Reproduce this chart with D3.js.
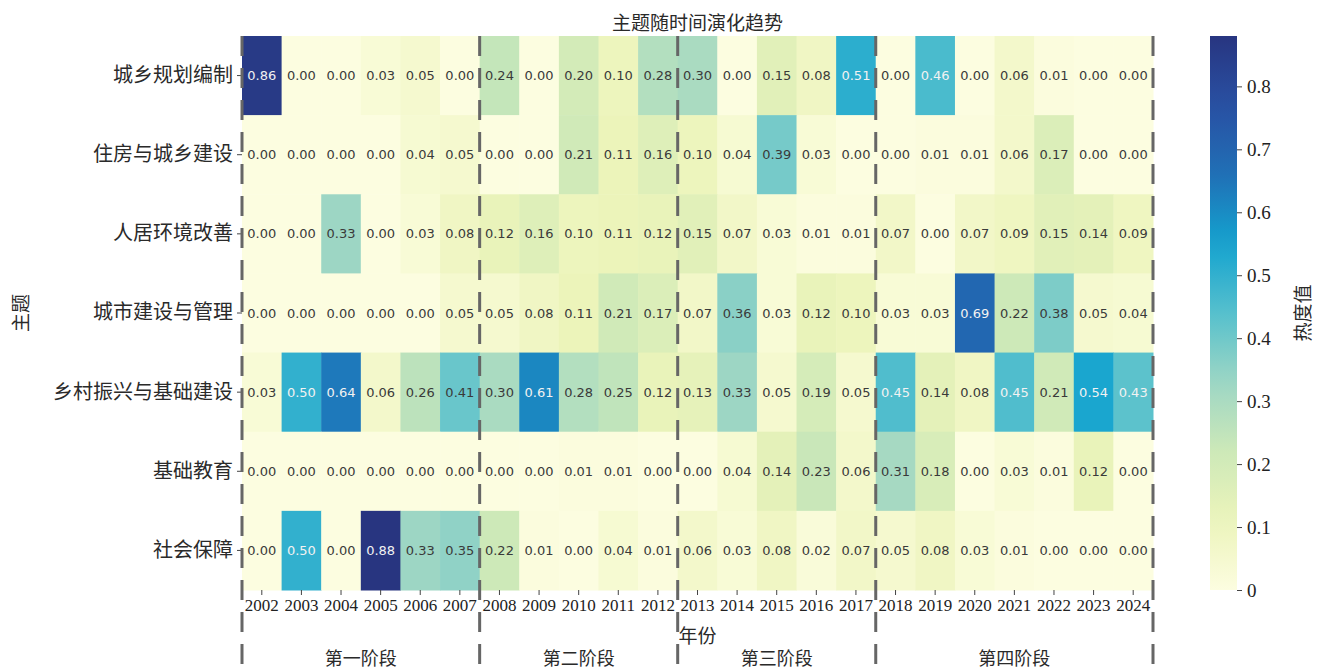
<!DOCTYPE html>
<html>
<head>
<meta charset="utf-8">
<script src="https://cdn.jsdelivr.net/npm/d3@7"></script>
<style>
  body { margin: 0; background: #fff; }
  text { font-family: "Noto Sans CJK SC", sans-serif; }
</style>
</head>
<body>
<div id="chart"></div>
<script>
// data
const years = d3.range(2002, 2025).map(String)
const topics = ["城乡规划编制", "住房与城乡建设", "人居环境改善", "城市建设与管理", "乡村振兴与基础建设", "基础教育", "社会保障"]
const heat = [
    [0.86, 0.00, 0.00, 0.03, 0.05, 0.00, 0.24, 0.00, 0.20, 0.10, 0.28, 0.30, 0.00, 0.15, 0.08, 0.51, 0.00, 0.46, 0.00, 0.06, 0.01, 0.00, 0.00],
    [0.00, 0.00, 0.00, 0.00, 0.04, 0.05, 0.00, 0.00, 0.21, 0.11, 0.16, 0.10, 0.04, 0.39, 0.03, 0.00, 0.00, 0.01, 0.01, 0.06, 0.17, 0.00, 0.00],
    [0.00, 0.00, 0.33, 0.00, 0.03, 0.08, 0.12, 0.16, 0.10, 0.11, 0.12, 0.15, 0.07, 0.03, 0.01, 0.01, 0.07, 0.00, 0.07, 0.09, 0.15, 0.14, 0.09],
    [0.00, 0.00, 0.00, 0.00, 0.00, 0.05, 0.05, 0.08, 0.11, 0.21, 0.17, 0.07, 0.36, 0.03, 0.12, 0.10, 0.03, 0.03, 0.69, 0.22, 0.38, 0.05, 0.04],
    [0.03, 0.50, 0.64, 0.06, 0.26, 0.41, 0.30, 0.61, 0.28, 0.25, 0.12, 0.13, 0.33, 0.05, 0.19, 0.05, 0.45, 0.14, 0.08, 0.45, 0.21, 0.54, 0.43],
    [0.00, 0.00, 0.00, 0.00, 0.00, 0.00, 0.00, 0.00, 0.01, 0.01, 0.00, 0.00, 0.04, 0.14, 0.23, 0.06, 0.31, 0.18, 0.00, 0.03, 0.01, 0.12, 0.00],
    [0.00, 0.50, 0.00, 0.88, 0.33, 0.35, 0.22, 0.01, 0.00, 0.04, 0.01, 0.06, 0.03, 0.08, 0.02, 0.07, 0.05, 0.08, 0.03, 0.01, 0.00, 0.00, 0.00],
]
const phaseNames = ["第一阶段", "第二阶段", "第三阶段", "第四阶段"]
const phaseStart = ["2002", "2008", "2013", "2018"]
const phaseEnd = ["2007", "2012", "2017", "2024"]
const colorTicks = [0, 0.1, 0.2, 0.3, 0.4, 0.5, 0.6, 0.7, 0.8]

// YlGnBu-like ramp, as it looks in the printed figure
const palette = ["#fcfde0", "#ecf4ba", "#cde9b8", "#9dd6c4", "#56c0cd", "#14a3cf", "#2070b6", "#2950a3", "#283580"]

const W = 1317, H = 671
const x0 = 242, x1 = 1153, y0 = 36, y1 = 590

const svg = d3.select("#chart").append("svg")
    .attr("width", W).attr("height", H)

const x = d3.scaleBand().domain(years).range([x0, x1])
const y = d3.scaleBand().domain(topics).range([y0, y1])

const vmax = d3.max(heat.flat())
const color = d3.scaleLinear()
    .domain(palette.map((d, i) => i / (palette.length - 1) * vmax))
    .range(palette)
    .interpolate(d3.interpolateRgb)

// flatten to cells
const cells = []
topics.forEach((t, i) => {
    years.forEach((yr, j) => {
        cells.push({ topic: t, year: yr, v: heat[i][j] })
    })
})

svg.append("g").selectAll("rect")
    .data(cells).enter()
    .append("rect")
    .attr("x", d => x(d.year))
    .attr("y", d => y(d.topic))
    .attr("width", x.bandwidth() + 0.5)
    .attr("height", y.bandwidth() + 0.5)
    .attr("fill", d => color(d.v))

svg.append("g").selectAll("text")
    .data(cells).enter()
    .append("text")
    .attr("x", d => x(d.year) + x.bandwidth() / 2)
    .attr("y", d => y(d.topic) + y.bandwidth() / 2)
    .attr("text-anchor", "middle")
    .attr("dominant-baseline", "central")
    .style("font-family", "DejaVu Sans")
    .style("font-size", "13px")
    .style("fill", d => d.v > 0.42 ? "#f2f2f2" : "#3a3a3a")
    .text(d => d3.format(".2f")(d.v))

// axes
const yAxis = svg.append("g")
    .attr("transform", "translate(" + x0 + ",0)")
    .call(d3.axisLeft(y).tickSize(5).tickPadding(4))
yAxis.select(".domain").remove()
yAxis.selectAll("line").attr("stroke", "#444")
yAxis.selectAll("text")
    .style("font-size", "20px")
    .style("fill", "#2a2a2a")

const xAxis = svg.append("g")
    .attr("transform", "translate(0," + y1 + ")")
    .call(d3.axisBottom(x).tickSize(5).tickPadding(4))
xAxis.select(".domain").remove()
xAxis.selectAll("line").attr("stroke", "#444")
xAxis.selectAll("text")
    .style("font-family", "Liberation Serif")
    .style("font-size", "17px")
    .style("fill", "#222")

// phase separators
const bounds = phaseStart.map(d => x(d)).concat([x(years[years.length - 1]) + x.bandwidth()])
svg.append("g").selectAll("line")
    .data(bounds).enter()
    .append("line")
    .attr("x1", d => d).attr("x2", d => d)
    .attr("y1", y0).attr("y2", 668)
    .attr("stroke", "#666")
    .attr("stroke-width", 3)
    .attr("stroke-dasharray", "20,12")

svg.append("g").selectAll("text")
    .data(phaseNames).enter()
    .append("text")
    .attr("x", (d, i) => (x(phaseStart[i]) + x(phaseEnd[i]) + x.bandwidth()) / 2)
    .attr("y", 657)
    .attr("text-anchor", "middle")
    .attr("dominant-baseline", "central")
    .style("font-size", "18px")
    .style("fill", "#2a2a2a")
    .text(d => d)

// titles
svg.append("text")
    .attr("x", (x0 + x1) / 2).attr("y", 21)
    .attr("text-anchor", "middle").attr("dominant-baseline", "central")
    .style("font-size", "19px").style("fill", "#2a2a2a")
    .text("主题随时间演化趋势")

svg.append("text")
    .attr("x", (x0 + x1) / 2).attr("y", 634)
    .attr("text-anchor", "middle").attr("dominant-baseline", "central")
    .style("font-size", "19px").style("fill", "#2a2a2a")
    .text("年份")

svg.append("text")
    .attr("transform", "translate(19," + (y0 + y1) / 2 + ") rotate(-90)")
    .attr("text-anchor", "middle").attr("dominant-baseline", "central")
    .style("font-size", "19px").style("fill", "#2a2a2a")
    .text("主题")

// colorbar
const cbX = 1210, cbW = 27
const cy = d3.scaleLinear().domain([0, vmax]).range([y1, y0])

const grad = svg.append("defs").append("linearGradient")
    .attr("id", "cbGrad")
    .attr("x1", 0).attr("y1", 1).attr("x2", 0).attr("y2", 0)
grad.selectAll("stop")
    .data(d3.range(0, 1.001, 0.05)).enter()
    .append("stop")
    .attr("offset", d => d)
    .attr("stop-color", d => color(d * vmax))

svg.append("rect")
    .attr("x", cbX).attr("y", y0)
    .attr("width", cbW).attr("height", y1 - y0)
    .attr("fill", "url(#cbGrad)")

const cbAxis = svg.append("g")
    .attr("transform", "translate(" + (cbX + cbW) + ",0)")
    .call(d3.axisRight(cy).tickValues(colorTicks).tickFormat(d3.format("")).tickSize(5).tickPadding(5))
cbAxis.select(".domain").remove()
cbAxis.selectAll("line").attr("stroke", "#444")
cbAxis.selectAll("text")
    .style("font-family", "Liberation Serif")
    .style("font-size", "19px")
    .style("fill", "#222")

svg.append("text")
    .attr("transform", "translate(1301," + (y0 + y1) / 2 + ") rotate(-90)")
    .attr("text-anchor", "middle").attr("dominant-baseline", "central")
    .style("font-size", "19px").style("fill", "#2a2a2a")
    .text("热度值")
</script>
</body>
</html>
